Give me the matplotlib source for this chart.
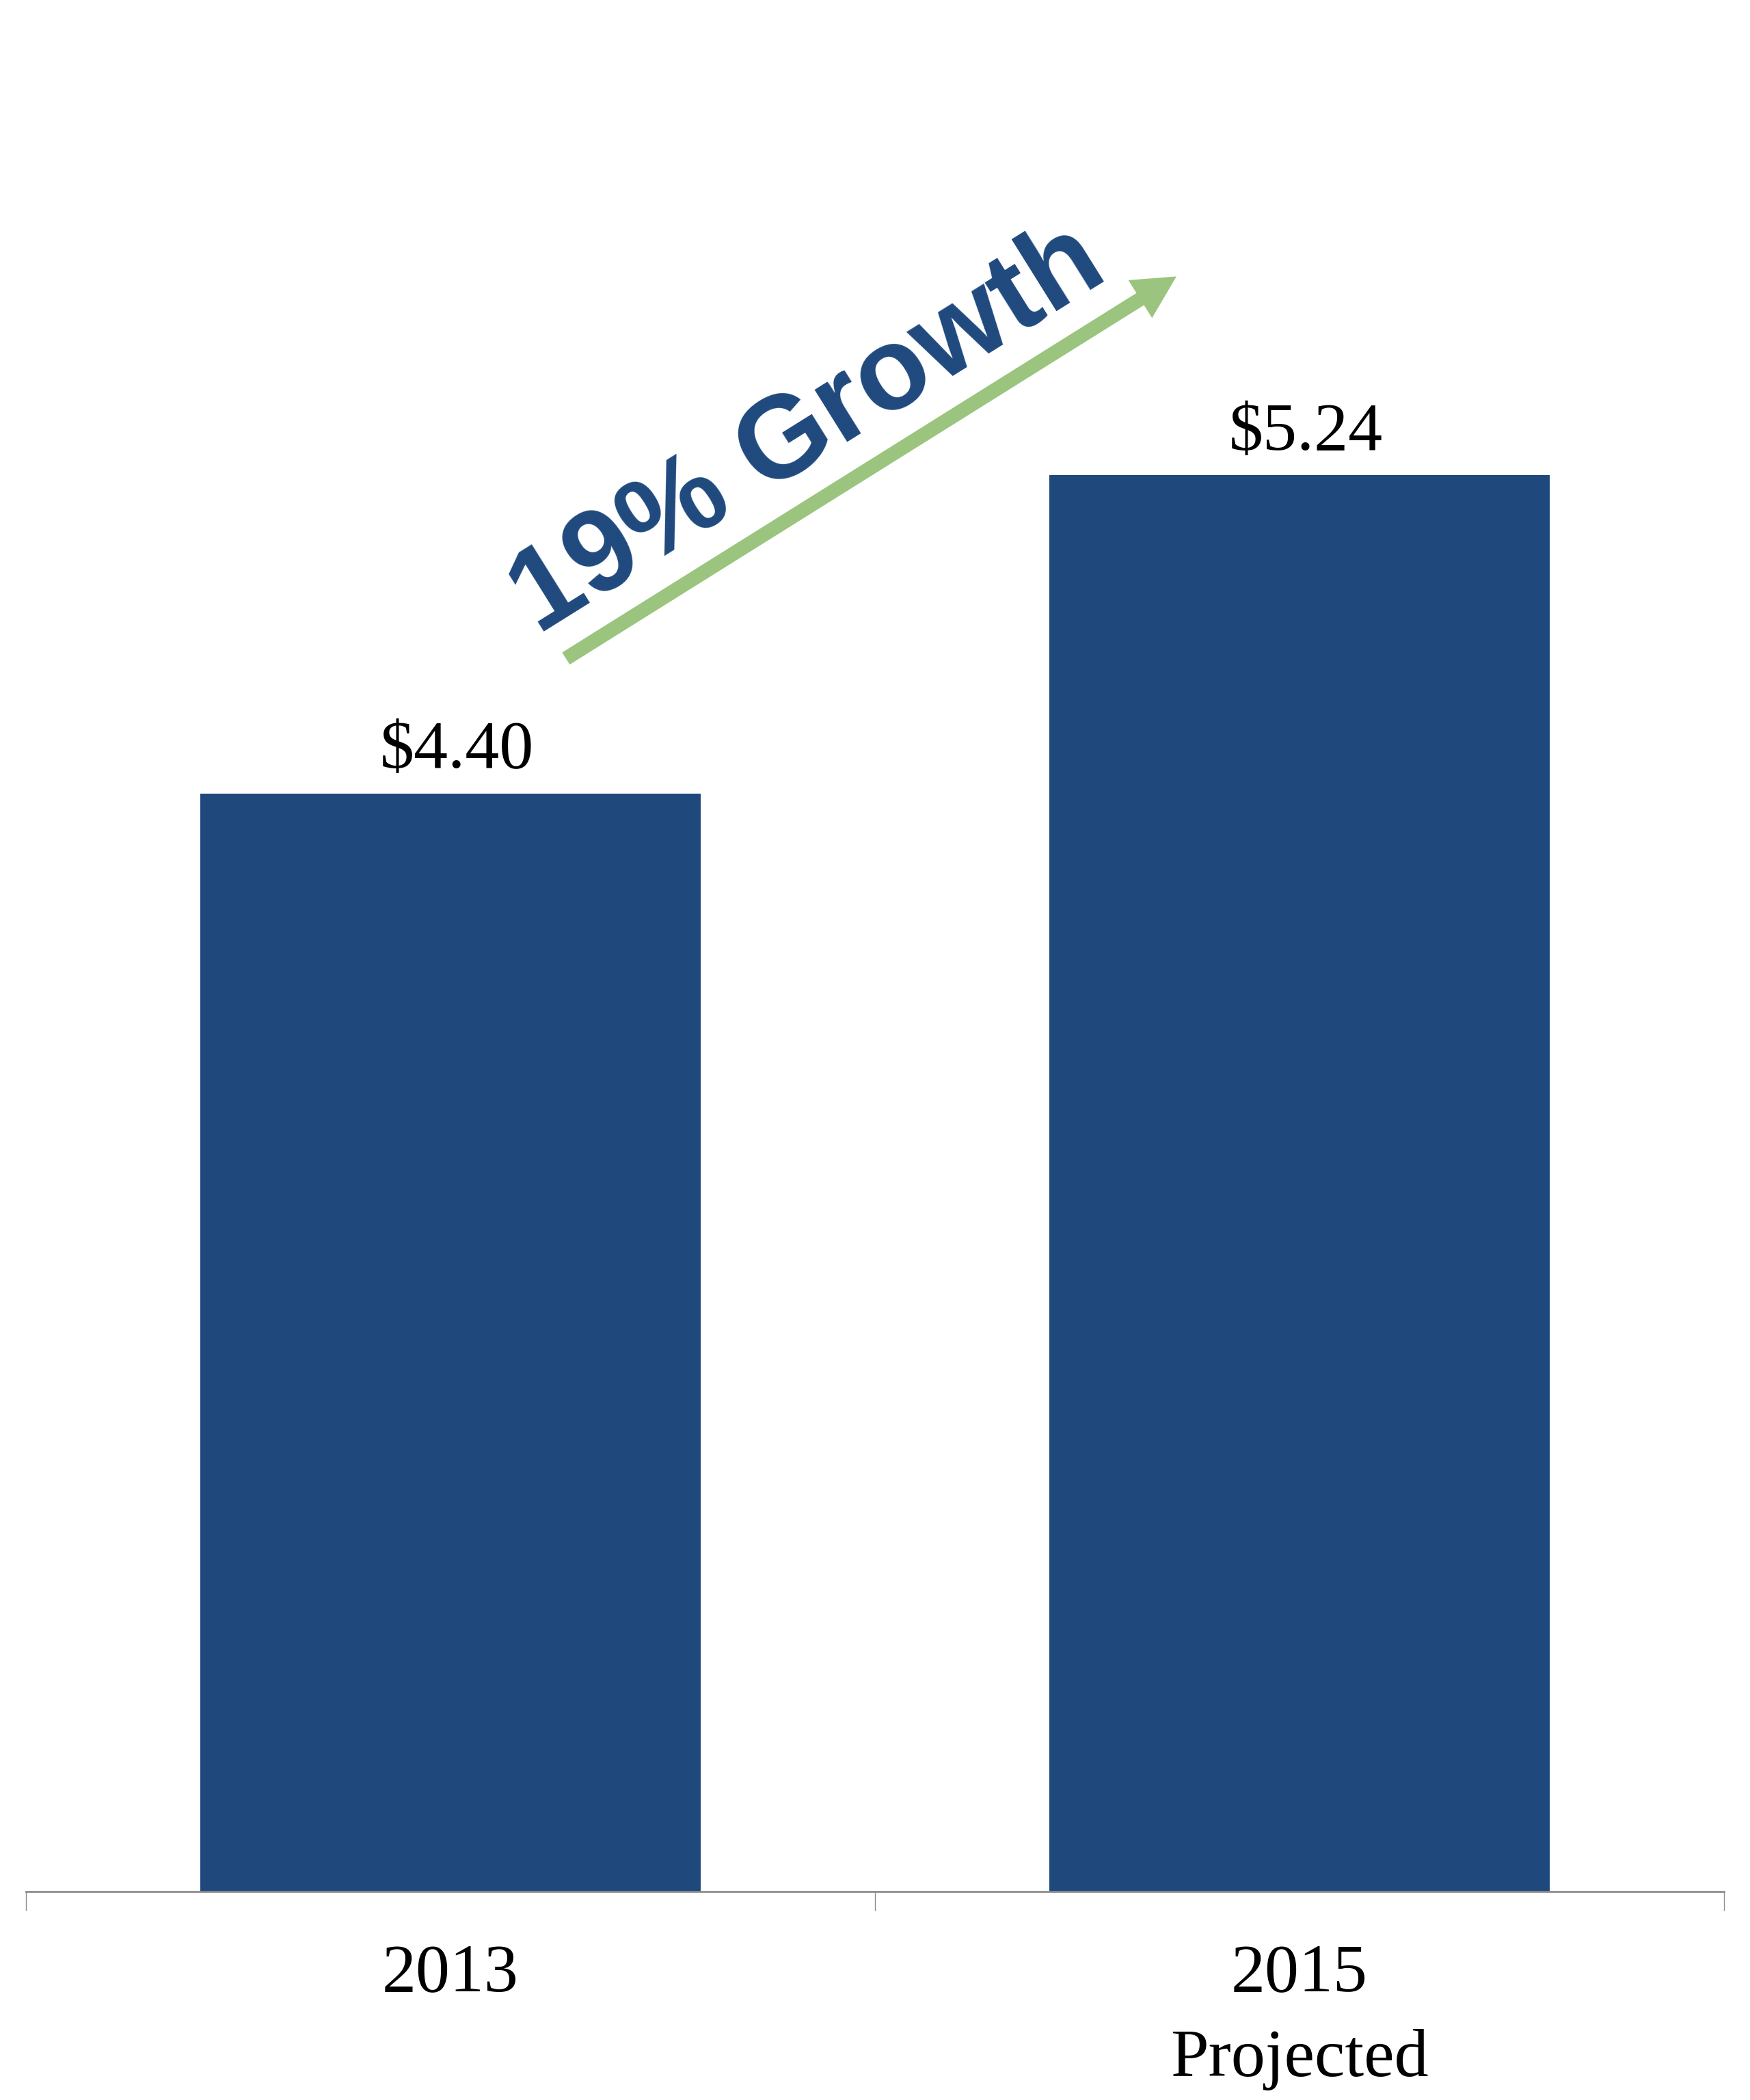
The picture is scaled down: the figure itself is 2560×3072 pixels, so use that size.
import matplotlib
matplotlib.use("Agg")
import matplotlib.pyplot as plt

years = ["2013", "2015\nProjected"]
values = [4.40, 5.24]
value_labels = ["$4.40", "$5.24"]
growth_text = "19% Growth"

bar_color = "#1F497D"
arrow_color = "#9BC57F"
serif = ["Liberation Serif", "DejaVu Serif"]

fig = plt.figure(figsize=(25.6, 30.72), dpi=100)
ax = fig.add_axes([0.0148, 0.0993, 0.9704, 0.9007])

x = list(range(len(years)))
ax.bar(x, values, width=0.589, color=bar_color)
ax.set_xlim(-0.5, 1.5)
ax.set_ylim(1.5, 6.495)

# value labels above the bars
for xi, v, lab in zip(x, values, value_labels):
    ax.annotate(lab, (xi, v), xytext=(7, 27), textcoords="offset points",
                ha="center", va="baseline", fontsize=72, family=serif)

# category labels, ticks only between categories
ax.set_xticks(x)
ax.set_xticklabels(years, fontsize=72, family=serif, linespacing=1.5)
ax.tick_params(axis="x", which="major", length=0, pad=55)
ax.set_xticks([-0.5, 0.5, 1.5], minor=True)
ax.tick_params(axis="x", which="minor", length=20, width=1, color="#8c8c8c",
               direction="out")
ax.set_yticks([])
for s in ["top", "left", "right"]:
    ax.spines[s].set_visible(False)
ax.spines["bottom"].set_color("#8c8c8c")
ax.spines["bottom"].set_linewidth(2)

# growth arrow
ax.annotate("", xy=(0.855, 5.765), xytext=(0.136, 4.756),
            arrowprops=dict(arrowstyle="simple,head_length=45,head_width=47,tail_width=15",
                            mutation_scale=1, color=arrow_color, lw=0,
                            shrinkA=0, shrinkB=0))
ax.text(0.44, 5.29, growth_text, rotation=32, rotation_mode="anchor",
        ha="center", va="baseline", fontsize=123, fontweight="bold",
        color=bar_color, family=["Liberation Sans", "DejaVu Sans"])

fig.savefig("out.png", dpi=100)
